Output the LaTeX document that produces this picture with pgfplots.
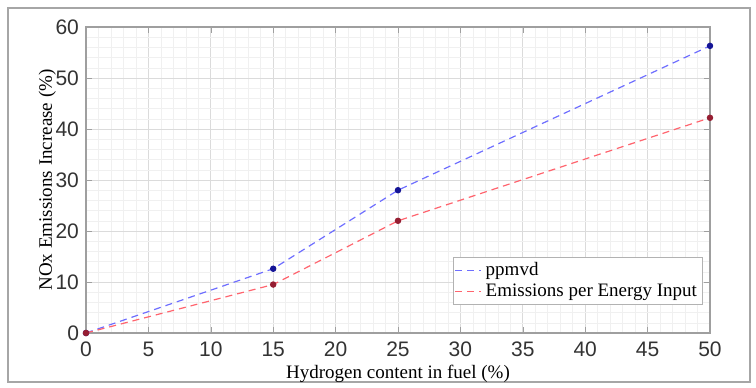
\documentclass[border=0pt]{standalone}
\usepackage{pgfplots}
\pgfplotsset{compat=1.18}
\usepackage{fontspec}
\setmainfont{Liberation Serif}
\newfontfamily\ticksf{Liberation Sans}
\definecolor{lineblue}{RGB}{110,110,255}
\definecolor{markblue}{RGB}{20,20,150}
\definecolor{linered}{RGB}{255,100,110}
\definecolor{markred}{RGB}{150,30,50}
\begin{document}
\begin{tikzpicture}
\useasboundingbox (0,0) rectangle (378pt,193.5pt);
\draw[gray!70, line width=0.8pt] (4pt,2.5pt) rectangle (375pt,189.5pt);
\begin{axis}[
  at={(43pt,27pt)}, anchor=origin,
  scale only axis, width=312pt, height=153pt,
  xmin=0, xmax=50, ymin=0, ymax=60,
  xtick={0,5,...,50}, ytick={0,10,...,60},
  minor x tick num=4, minor y tick num=4,
  grid=both,
  major grid style={gray!28, line width=0.4pt},
  minor grid style={gray!12, line width=0.3pt},
  axis line style={gray!75, line width=0.6pt},
  tick style={gray!75},
  major tick length=3pt, minor tick length=0pt,
  /pgf/number format/assume math mode=true,
  tick label style={font=\ticksf\fontsize{10.5}{12}\selectfont, text=black!80},
  xticklabel style={yshift=-1pt},
  xlabel={Hydrogen content in fuel (\%)},
  ylabel={NOx Emissions Increase (\%)},
  label style={font=\fontsize{9.5}{11}\selectfont},
  xlabel style={yshift=3pt},
  ylabel style={yshift=-7pt},
  legend style={at={(0.988,0.092)}, anchor=south east, draw=gray!60, line width=0.5pt,
    font=\fontsize{9.5}{11}\selectfont, inner sep=0.5pt, row sep=-1.5pt,
    legend cell align=left},
  legend image code/.code={\draw[#1, mark=none] (-2pt,0pt) -- (11pt,0pt);},
]
\addplot[lineblue, dash pattern=on 3.5pt off 2.5pt, line width=0.6pt, mark=*, mark size=1.3pt,
  mark options={solid, fill=markblue, draw=markblue}]
  coordinates {(0,0) (15,12.6) (25,28) (50,56.3)};
\addlegendentry{ppmvd}
\addplot[linered, dash pattern=on 3.5pt off 2.5pt, line width=0.6pt, mark=*, mark size=1.3pt,
  mark options={solid, fill=markred, draw=markred}]
  coordinates {(0,0) (15,9.5) (25,22) (50,42.2)};
\addlegendentry{Emissions per Energy Input}
\end{axis}
\end{tikzpicture}
\end{document}
